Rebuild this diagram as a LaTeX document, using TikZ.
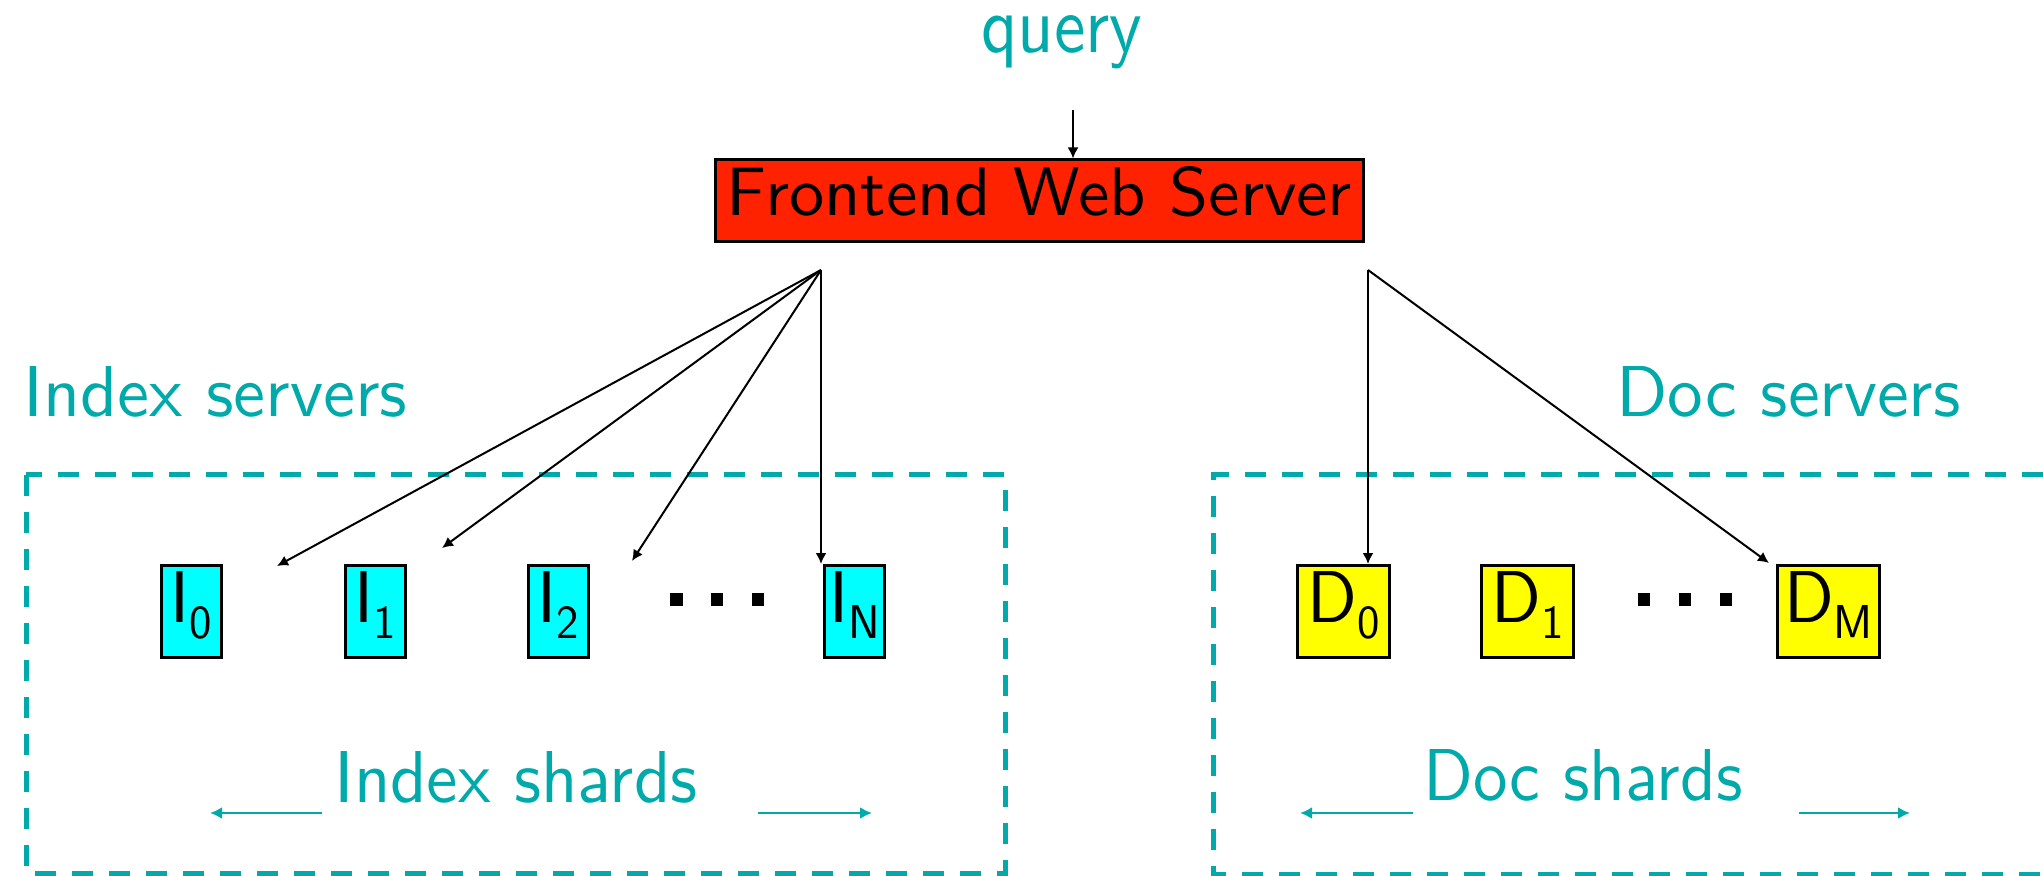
\documentclass[tikz,border=0pt]{standalone}
\usepackage{fontspec}
\usepackage{graphicx}
\usetikzlibrary{arrows.meta}
\definecolor{tealc}{RGB}{0,170,170}
\definecolor{fwsred}{RGB}{255,34,0}
\definecolor{shardcyan}{RGB}{0,255,255}
\definecolor{shardyellow}{RGB}{255,255,0}
% fit a text to a given width and height (in pt)
\newcommand\fitlabel[3]{\resizebox{#1}{#2}{\sffamily #3}}
\newcommand\shard[2]{\sffamily\fontsize{36.7}{37}\selectfont #1\raisebox{-8pt}{\fontsize{23.8}{24}\selectfont #2}}
\begin{document}
\begin{tikzpicture}[x=0.5pt,y=-0.5pt,
  lbl/.style={text=tealc, anchor=base west, inner sep=0pt},
  ibox/.style={draw=black, line width=1.5pt, fill=shardcyan, minimum width=30pt, minimum height=46pt, inner sep=0pt, text height=25.5pt, text depth=15pt},
  dbox/.style={draw=black, line width=1.5pt, fill=shardyellow, minimum width=46pt, minimum height=46pt, inner sep=0pt, text height=25.5pt, text depth=15pt},
  conn/.style={line width=1pt, -{Latex[length=5.5pt,width=5.5pt]}},
  tarrow/.style={draw=tealc, line width=1.3pt, -{Latex[length=6pt,width=6pt]}},
  groupbox/.style={draw=tealc, line width=2.5pt, dash pattern=on 10.5pt off 8pt}]
\useasboundingbox (0,0) rectangle (2043,876);
\clip (0,0) rectangle (2043,876);

% group boxes
\draw[groupbox] (26,475) rectangle (1005,873);
\draw[groupbox] (2080,475) -- (1213,475) -- (1213,874) -- (2080,874);

% labels
\node[lbl] (query) at (981,53) {\fitlabel{80.5pt}{18.5pt}{query}};
\node[lbl] (iservers) at (23,417) {\fitlabel{192pt}{25pt}{Index servers}};
\node[lbl] (dservers) at (1616,417) {\fitlabel{172pt}{25pt}{Doc servers}};
\node[lbl] (ishards) at (334,802) {\fitlabel{181.5pt}{25.5pt}{Index shards}};
\node[lbl] (dshards) at (1423,800) {\fitlabel{159.5pt}{25.5pt}{Doc shards}};

% frontend
\node[draw=black, line width=1.5pt, fill=fwsred, minimum width=324pt, minimum height=41pt, inner sep=0pt,
      text height=24.5pt, text depth=9.5pt] (fws) at (1039.5,201)
      {\fitlabel{312.5pt}{24.5pt}{Frontend Web Server}};

% shards
\node[ibox] (I0) at (191.5,611.5) {\shard{I}{0}};
\node[ibox] (I1) at (375.5,611.5) {\shard{I}{1}};
\node[ibox] (I2) at (558,611.5) {\shard{I}{2}};
\node[ibox] (IN) at (854.5,611.5) {\shard{I}{N}};
\node[dbox] (D0) at (1343.5,611.5) {\shard{D}{0}};
\node[dbox] (D1) at (1527.5,611.5) {\shard{D}{1}};
\node[dbox, minimum width=51pt] (DM) at (1828.5,611.5) {\shard{D}{M}};

% dots
\fill (670,593) rectangle (683,606);
\fill (711,593) rectangle (723,606);
\fill (752,593) rectangle (764,606);
\fill (1638,593) rectangle (1650,606);
\fill (1679,593) rectangle (1691,606);
\fill (1720,593) rectangle (1732,606);

% connectors
\coordinate (qtop) at (1073,110);
\coordinate (fanL) at (821,270);
\coordinate (fanR) at (1368,270);
\coordinate (tI0) at (277,566);
\coordinate (tI1) at (442,548);
\coordinate (tI2) at (632,561);
\coordinate (tDM) at (1769,563);
\draw[conn] (qtop) -- (qtop |- fws.north);
\draw[conn] (fanL) -- (tI0);
\draw[conn] (fanL) -- (tI1);
\draw[conn] (fanL) -- (tI2);
\draw[conn] (fanL) -- (fanL |- IN.north);
\draw[conn] (fanR) -- (fanR |- D0.north);
\draw[conn] (fanR) -- (tDM);

% shard arrows
\coordinate (il1) at (322,813); \coordinate (il2) at (210,813);
\coordinate (ir1) at (758,813); \coordinate (ir2) at (872,813);
\coordinate (dl1) at (1413,813); \coordinate (dl2) at (1300,813);
\coordinate (dr1) at (1799,813); \coordinate (dr2) at (1910,813);
\draw[tarrow] (il1) -- (il2);
\draw[tarrow] (ir1) -- (ir2);
\draw[tarrow] (dl1) -- (dl2);
\draw[tarrow] (dr1) -- (dr2);
\end{tikzpicture}
\end{document}
